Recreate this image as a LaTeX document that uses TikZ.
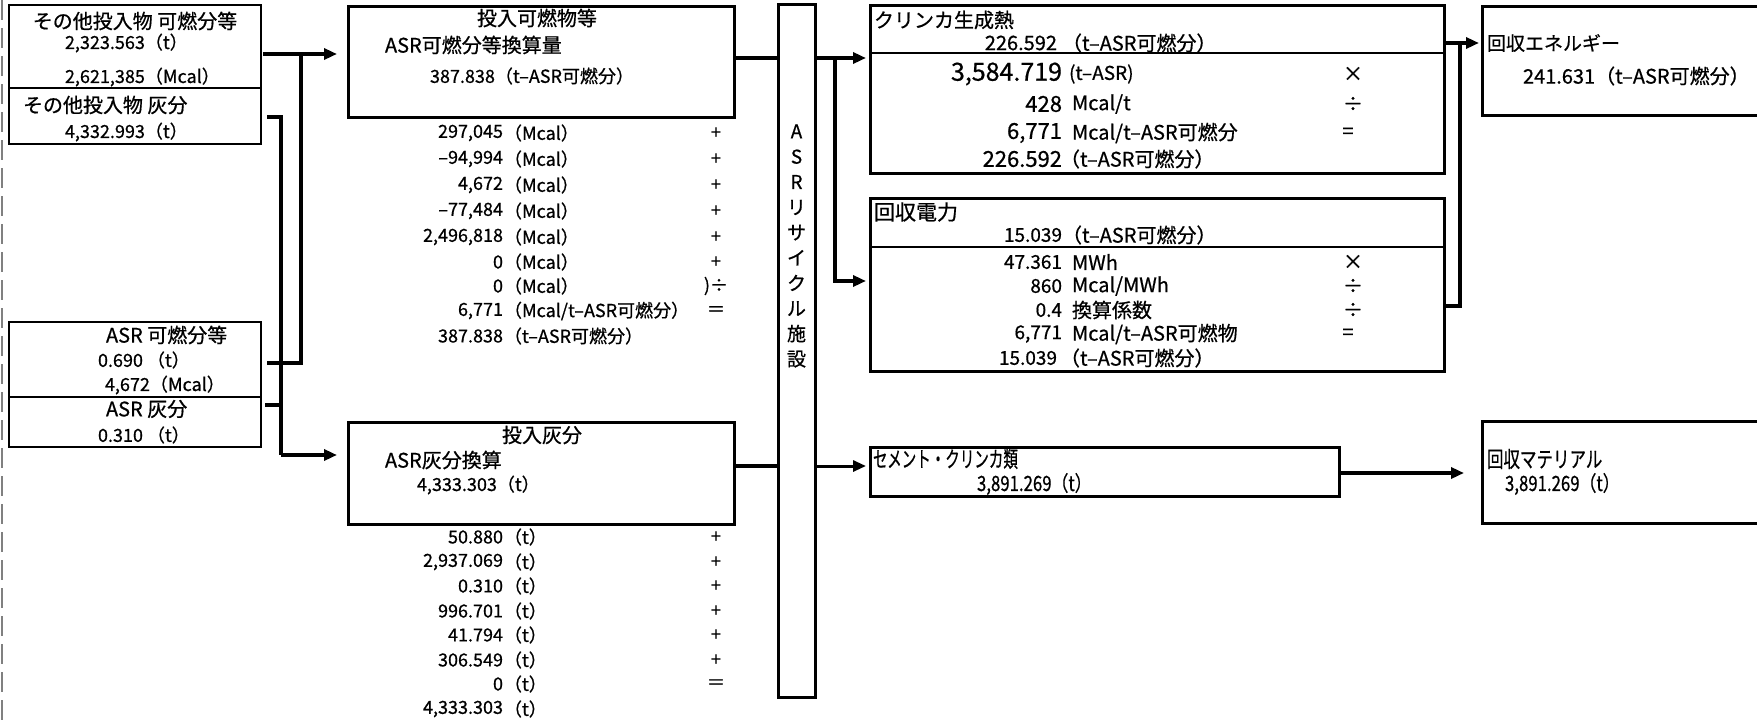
\documentclass[tikz,border=0pt]{standalone}
\usepackage{fontspec}
\setmainfont{Noto Sans CJK JP}[FakeBold=0.7]
\usetikzlibrary{arrows.meta}
\newcommand\fz[1]{\fontsize{#1}{#1}\selectfont}
\newcommand\cnd[2]{\scalebox{#1}[1]{#2}}
\tikzset{
 thinbox/.style={draw, line width=1.5pt, inner sep=0pt, outer sep=0pt},
 thickbox/.style={draw, line width=3pt, inner sep=0pt, outer sep=0pt},
 conn/.style={line width=4pt},
 connthin/.style={line width=3pt},
 arr/.style={-{Triangle[length=13pt,width=11pt]}},
 tx/.style={inner sep=0pt, outer sep=0pt, anchor=west},
 tr/.style={inner sep=0pt, outer sep=0pt, anchor=east},
 tc/.style={inner sep=0pt, outer sep=0pt, anchor=center},
 divider/.style={line width=1.5pt},
}
\begin{document}
\begin{tikzpicture}[x=1pt,y=-1pt]
\useasboundingbox (0,0) rectangle (1757,723);
\fill[white] (0,0) rectangle (1757,723);
\clip (0,0) rectangle (1757,723);
\draw[gray, line width=2pt, dash pattern=on 20pt off 8pt] (2,0) -- (2,723);

% ---------- boxes ----------
\node[thinbox, minimum width=252pt, minimum height=83pt] (oc) at (135,46.5) {};
\node[thinbox, minimum width=252pt, minimum height=56pt] (oa) at (135,116) {};
\node[thinbox, minimum width=252pt, minimum height=75pt] (ac) at (135,359.5) {};
\node[thinbox, minimum width=252pt, minimum height=50pt] (aa) at (135,422) {};
\node[thickbox, minimum width=386pt, minimum height=111pt] (comb) at (541,61.5) {};
\node[thickbox, minimum width=386pt, minimum height=102pt] (ash) at (541,473) {};
\node[thickbox, minimum width=37pt, minimum height=693pt] (asr) at (796.5,350.5) {};
\node[thickbox, minimum width=574pt, minimum height=168pt] (clk) at (1157,89) {};
\node[thickbox, minimum width=574pt, minimum height=173pt] (pow) at (1157,284.5) {};
\node[thickbox, minimum width=288pt, minimum height=109pt] (en) at (1626,60.5) {};
\node[thickbox, minimum width=469pt, minimum height=49pt] (cem) at (1104.5,471.5) {};
\node[thickbox, minimum width=288pt, minimum height=102pt] (mat) at (1626,472) {};

\coordinate (cd) at (0,53);
\coordinate (pd) at (0,247);
\draw[divider] (clk.west |- cd) -- (clk.east |- cd);
\draw[divider] (pow.west |- pd) -- (pow.east |- pd);

% ---------- connectors ----------
\coordinate (j1) at (301,54);
\coordinate (j3) at (301,363);
\coordinate (k1) at (281,117);
\coordinate (k2) at (281,405);
\coordinate (k3) at (281,455);
\draw[conn, arr, shorten <=2pt, shorten >=11pt] (oc.east |- j1) -- (comb.west |- j1);
\draw[conn, shorten <=6pt] (ac.east |- j3) -- (j3) -- (j1);
\draw[conn, shorten <=6pt] (oa.east |- k1) -- (k1) -- (k3);
\draw[conn, shorten <=4pt] (aa.east |- k2) -- (k2);
\draw[conn, arr, shorten >=11pt] (k3) -- (ash.west |- k3);

\coordinate (m1) at (0,58);
\coordinate (m2) at (0,466);
\draw[conn] (comb.east |- m1) -- (asr.west |- m1);
\draw[conn] (ash.east |- m2) -- (asr.west |- m2);

\coordinate (r1) at (835,58);
\coordinate (r2) at (835,281);
\draw[conn, arr, shorten >=4pt] (asr.east |- r1) -- (clk.west |- r1);
\draw[conn, arr, shorten >=4pt] (r1) -- (r2) -- (pow.west |- r2);
\draw[connthin, arr, shorten >=4pt] (asr.east |- m2) -- (cem.west |- m2);

\coordinate (e1) at (1460,43);
\coordinate (e2) at (1460,306);
\draw[conn, arr, shorten >=3pt] (clk.east |- e1) -- (en.west |- e1);
\draw[conn] (pow.east |- e2) -- (e2) -- (e1);
\coordinate (c1) at (0,473);
\draw[conn, arr, shorten <=2pt, shorten >=18pt] (cem.east |- c1) -- (mat.west |- c1);

% ---------- left boxes text ----------
\node[tc, font=\fz{20}] (toc1) at (135,21) {その他投入物 可燃分等};
\node[tx, font=\fz{18}] (toc2) at (65,43) {2,323.563（t）};
\node[tx, font=\fz{18}] (toc3) at (65,77) {2,621,385（Mcal）};
\node[tx, font=\fz{20}] (toa1) at (23,105) {その他投入物 灰分};
\node[tx, font=\fz{18}] (toa2) at (65,132) {4,332.993（t）};

\node[tx, font=\fz{20}] (tac1) at (106,335) {ASR 可燃分等};
\node[tx, font=\fz{18}] (tac2) at (98,360) {0.690 （t）};
\node[tx, font=\fz{18}] (tac3) at (105,385) {4,672（Mcal）};
\node[tx, font=\fz{20}] (taa1) at (106,409) {ASR 灰分};
\node[tx, font=\fz{18}] (taa2) at (98,435) {0.310 （t）};

% ---------- combustible box ----------
\node[tc, font=\fz{20}] (tcb1) at (537,18) {投入可燃物等};
\node[tx, font=\fz{20}] (tcb2) at (385,45) {ASR可燃分等換算量};
\node[tx, font=\fz{18}] (tcb3) at (430,76) {387.838（t–ASR可燃分）};

\foreach \n/\u/\o/\y [count=\i] in {
  {297,045}/{（Mcal）}/{+}/133,
  {–94,994}/{（Mcal）}/{+}/159,
  {4,672}/{（Mcal）}/{+}/185,
  {–77,484}/{（Mcal）}/{+}/211,
  {2,496,818}/{（Mcal）}/{+}/237,
  {0}/{（Mcal）}/{+}/262,
  {0}/{（Mcal）}/{)÷}/286,
  {6,771}/{（Mcal/t–ASR可燃分）}/{＝}/311,
  {387.838}/{（t–ASR可燃分）}/{}/336}{
  \node[tr, font=\fz{18}] (cn\i) at (503,\y) {\n};
  \node[tx, font=\fz{18}] (cu\i) at (504,\y) {\u};
  \node[tc, font=\fz{18}] (co\i) at (716,\y) {\o};
}

% ---------- ash box ----------
\node[tc, font=\fz{20}] (tas1) at (542,435) {投入灰分};
\node[tx, font=\fz{20}] (tas2) at (385,460) {ASR灰分換算};
\node[tx, font=\fz{18}] (tas3) at (417,485) {4,333.303（t）};

\foreach \n/\o/\y [count=\i] in {
  {50.880}/{+}/537,
  {2,937.069}/{+}/562,
  {0.310}/{+}/586,
  {996.701}/{+}/611,
  {41.794}/{+}/635,
  {306.549}/{+}/660,
  {0}/{＝}/684,
  {4,333.303}/{}/709}{
  \node[tr, font=\fz{18}] (an\i) at (503,\y) {\n};
  \node[tx, font=\fz{18}] (au\i) at (504,\y) {（t）};
  \node[tc, font=\fz{18}] (ao\i) at (716,\y) {\o};
}

% ---------- ASR facility ----------
\node[tc, align=center, font=\fontsize{19}{25.3}\selectfont] (asrt) at (796.5,246) {A\\S\\R\\リ\\サ\\イ\\ク\\ル\\施\\設};

% ---------- clinker ----------
\node[tx, font=\fz{20}] (tk1) at (874,20) {クリンカ生成熱};
\node[tr, font=\fz{20}] (kn0) at (1057,43) {226.592};
\node[tx, font=\fz{20}] (ku0) at (1062,43) {（t–ASR可燃分）};
\node[tr, font=\fz{25}] (kn1) at (1062,74) {3,584.719};
\node[tx, font=\fz{19}] (ku1) at (1069,74) {(t–ASR)};
\node[tr, font=\fz{22}] (kn2) at (1062,104) {428};
\node[tx, font=\fz{20}] (ku2) at (1072,104) {Mcal/t};
\node[tr, font=\fz{22}] (kn3) at (1062,133) {6,771};
\node[tx, font=\fz{20}] (ku3) at (1072,133) {Mcal/t–ASR可燃分};
\node[tr, font=\fz{22}] (kn4) at (1062,159) {226.592};
\node[tx, font=\fz{20}] (ku4) at (1060,159) {（t–ASR可燃分）};
\node[tc, font=\fz{20}] (ko1) at (1353,74) {×};
\node[tc, font=\fz{20}] (ko2) at (1353,104) {÷};
\node[tc, font=\fz{20}] (ko3) at (1348,133) {=};

% ---------- power ----------
\node[tx, font=\fz{21}] (tp1) at (874,212) {回収電力};
\node[tr, font=\fz{19}] (pn0) at (1062,235) {15.039};
\node[tx, font=\fz{20}] (pu0) at (1062,235) {（t–ASR可燃分）};
\foreach \n/\u/\o/\x/\y [count=\i] in {
  {47.361}/{MWh}/{×}/1353/262,
  {860}/{Mcal/MWh}/{÷}/1353/286,
  {0.4}/{換算係数}/{÷}/1353/310,
  {6,771}/{Mcal/t–ASR可燃物}/{=}/1348/334}{
  \node[tr, font=\fz{19}] (pn\i) at (1062,\y) {\n};
  \node[tx, font=\fz{20}] (pu\i) at (1072,\y) {\u};
  \node[tc, font=\fz{20}] (po\i) at (\x,\y) {\o};
}
\node[tr, font=\fz{19}] (pn5) at (1057,358) {15.039};
\node[tx, font=\fz{20}] (pu5) at (1060,358) {（t–ASR可燃分）};

% ---------- energy / cement / material ----------
\node[tx, font=\fz{19}] (te1) at (1487,43) {回収エネルギー};
\node[tx, font=\fz{20}] (te2) at (1523,76) {241.631（t–ASR可燃分）};
\node[tx, font=\fz{22}] (tm1) at (873,459) {\cnd{0.66}{セメント・クリンカ類}};
\node[tx, font=\fz{21}] (tm2) at (977,484) {\cnd{0.8}{3,891.269（t）}};
\node[tx, font=\fz{22}] (tr1) at (1487,459) {\cnd{0.75}{回収マテリアル}};
\node[tx, font=\fz{21}] (tr2) at (1505,484) {\cnd{0.8}{3,891.269（t）}};
\end{tikzpicture}
\end{document}
